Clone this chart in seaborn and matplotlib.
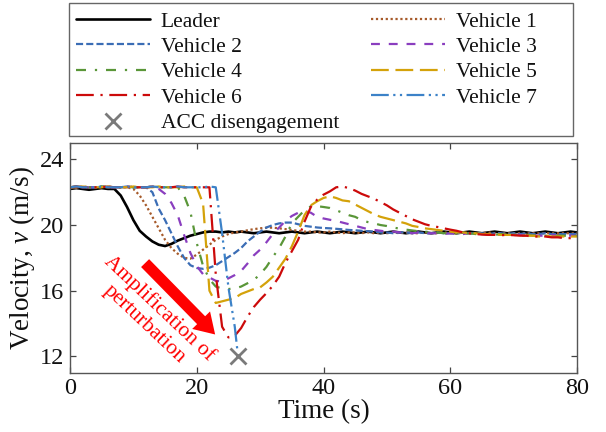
import numpy as np
import pandas as pd
import seaborn as sns
import matplotlib
matplotlib.use("Agg")
import matplotlib.pyplot as plt
from matplotlib.lines import Line2D
from matplotlib.patches import Rectangle

# ---------------- data ----------------
time = list(range(0, 81))

leader = [22.2, 22.25, 22.2, 22.15, 22.2, 22.25, 22.2, 22.2, 21.8, 21.1,
          20.3, 19.65, 19.3, 19.0, 18.8, 18.72, 18.85, 19.05, 19.2, 19.35,
          19.45, 19.55, 19.6, 19.6, 19.55, 19.6, 19.55, 19.6, 19.55, 19.5,
          19.55, 19.6, 19.55, 19.5, 19.55, 19.6, 19.55, 19.5, 19.55, 19.6,
          19.55, 19.5, 19.55, 19.6, 19.55, 19.5, 19.55, 19.6, 19.55, 19.5,
          19.55, 19.6, 19.55, 19.5, 19.55, 19.6, 19.55, 19.5, 19.55, 19.6,
          19.55, 19.5, 19.55, 19.6, 19.55, 19.5, 19.55, 19.6, 19.55, 19.5,
          19.55, 19.6, 19.55, 19.5, 19.55, 19.6, 19.55, 19.5, 19.55, 19.6,
          19.55]

vehicle1 = [22.3, 22.3, 22.35, 22.3, 22.3, 22.3, 22.35, 22.3, 22.3, 22.3,
            22.2, 21.8, 21.2, 20.5, 19.8, 19.1, 18.6, 18.25, 18.0, 17.95,
            18.2, 18.5, 18.8, 19.1, 19.3, 19.45, 19.55, 19.6, 19.68, 19.75,
            19.8, 19.84, 19.84, 19.8, 19.75, 19.7, 19.65, 19.6, 19.6, 19.55,
            19.55, 19.6, 19.55, 19.5, 19.55, 19.55, 19.5, 19.55, 19.5, 19.55,
            19.5, 19.55, 19.5, 19.55, 19.5, 19.5, 19.55, 19.5, 19.5, 19.55,
            19.5, 19.5, 19.55, 19.5, 19.5, 19.5, 19.55, 19.5, 19.5, 19.5,
            19.5, 19.5, 19.5, 19.5, 19.5, 19.5, 19.5, 19.5, 19.5, 19.5,
            19.5]

vehicle2 = [22.3, 22.35, 22.3, 22.3, 22.3, 22.35, 22.3, 22.3, 22.3, 22.35,
            22.3, 22.3, 22.3, 22.0, 21.0, 20.3, 19.5, 18.7, 18.0, 17.55,
            17.38, 17.33, 17.4, 17.55, 17.8, 18.05, 18.3, 18.6, 19.0, 19.3,
            19.6, 19.85, 20.0, 20.1, 20.15, 20.15, 20.05, 19.95, 19.9, 19.85,
            19.82, 19.8, 19.77, 19.74, 19.7, 19.68, 19.65, 19.62, 19.6, 19.55,
            19.55, 19.5, 19.55, 19.55, 19.5, 19.55, 19.5, 19.5, 19.55, 19.5,
            19.5, 19.5, 19.55, 19.5, 19.5, 19.5, 19.45, 19.5, 19.5, 19.45,
            19.5, 19.45, 19.5, 19.45, 19.45, 19.5, 19.45, 19.45, 19.45, 19.45,
            19.45]

vehicle3 = [22.3, 22.3, 22.35, 22.3, 22.3, 22.3, 22.35, 22.3, 22.3, 22.3,
            22.35, 22.3, 22.3, 22.3, 22.2, 21.9, 21.35, 20.6, 19.4, 18.3,
            17.5, 17.0, 16.8, 16.6, 16.55, 16.75, 16.95, 17.2, 17.65, 18.15,
            18.5, 18.95, 19.45, 19.85, 20.25, 20.55, 20.75, 20.85, 20.75, 20.5,
            20.4, 20.32, 20.25, 20.15, 20.05, 19.95, 19.85, 19.75, 19.7, 19.65,
            19.6, 19.6, 19.55, 19.55, 19.5, 19.55, 19.5, 19.5, 19.5, 19.45,
            19.5, 19.45, 19.45, 19.5, 19.45, 19.45, 19.4, 19.45, 19.4, 19.4,
            19.4, 19.4, 19.35, 19.4, 19.35, 19.35, 19.4, 19.35, 19.35, 19.35,
            19.35]

vehicle4 = [22.3, 22.35, 22.3, 22.3, 22.3, 22.35, 22.3, 22.3, 22.3, 22.35,
            22.3, 22.3, 22.3, 22.35, 22.3, 22.3, 22.3, 22.3, 21.8, 20.8,
            18.9, 17.5, 16.7, 16.25, 16.13, 16.1, 16.13, 16.25, 16.45, 16.65,
            17.0, 17.45, 18.05, 18.6, 19.3, 20.1, 20.5, 20.9, 21.14, 21.15,
            21.1, 21.04, 20.9, 20.75, 20.6, 20.5, 20.3, 20.18, 20.1, 20.0,
            19.94, 19.85, 19.78, 19.72, 19.67, 19.62, 19.6, 19.55, 19.55, 19.5,
            19.5, 19.5, 19.45, 19.5, 19.45, 19.45, 19.45, 19.4, 19.45, 19.4,
            19.4, 19.4, 19.4, 19.35, 19.4, 19.35, 19.35, 19.35, 19.35, 19.3,
            19.35]

vehicle5 = [22.3, 22.3, 22.35, 22.3, 22.3, 22.3, 22.35, 22.3, 22.3, 22.3,
            22.35, 22.3, 22.3, 22.3, 22.35, 22.3, 22.3, 22.3, 22.35, 22.3,
            22.3, 21.3, 16.0, 15.25, 15.35, 15.45, 15.55, 15.8, 15.95, 16.1,
            16.2, 16.5, 16.85, 17.4, 17.95, 18.7, 19.6, 20.6, 21.2, 21.45,
            21.65, 21.75, 21.65, 21.5, 21.45, 21.25, 21.05, 20.85, 20.65, 20.5,
            20.4, 20.3, 20.2, 20.1, 19.95, 19.88, 19.8, 19.75, 19.7, 19.65,
            19.6, 19.55, 19.55, 19.5, 19.5, 19.45, 19.45, 19.45, 19.4, 19.4,
            19.4, 19.35, 19.35, 19.35, 19.3, 19.35, 19.3, 19.3, 19.3, 19.3,
            19.3]

vehicle6 = [22.3, 22.35, 22.3, 22.3, 22.3, 22.35, 22.3, 22.3, 22.3, 22.35,
            22.3, 22.3, 22.3, 22.35, 22.3, 22.3, 22.3, 22.35, 22.3, 22.3,
            22.3, 22.3, 22.3, 17.0, 13.8, 13.15, 13.25, 13.72, 14.4, 15.0,
            15.45, 15.85, 16.3, 16.85, 17.7, 18.4, 19.1, 20.2, 21.1, 21.55,
            21.85, 22.05, 22.3, 22.35, 22.25, 22.1, 21.9, 21.75, 21.6, 21.4,
            21.2, 20.95, 20.75, 20.55, 20.35, 20.2, 20.05, 19.95, 19.88, 19.8,
            19.72, 19.65, 19.55, 19.5, 19.45, 19.42, 19.4, 19.4, 19.38, 19.4,
            19.38, 19.35, 19.35, 19.3, 19.3, 19.3, 19.25, 19.25, 19.2, 19.2,
            19.2]

time7 = [0, 1, 2, 3, 4, 5, 6, 7, 8, 9, 10, 11, 12, 13, 14, 15, 16, 17, 18,
         19, 20, 21, 22, 23, 24, 25, 26, 26.4]
vehicle7 = [22.3, 22.35, 22.3, 22.3, 22.3, 22.35, 22.3, 22.3, 22.3, 22.35,
            22.3, 22.3, 22.3, 22.35, 22.3, 22.3, 22.3, 22.35, 22.3, 22.3,
            22.3, 22.3, 22.35, 22.3, 19.5, 16.2, 13.8, 12.4]

acc_time = [26.5]
acc_speed = [12.0]

series_names = ["Leader", "Vehicle 1", "Vehicle 2", "Vehicle 3", "Vehicle 4",
                "Vehicle 5", "Vehicle 6", "Vehicle 7"]

# ---------------- styling ----------------
colors = {"Leader": "#000000", "Vehicle 1": "#A65A2A", "Vehicle 2": "#3B6DB5",
          "Vehicle 3": "#8A3EBF", "Vehicle 4": "#5A9638", "Vehicle 5": "#D4A20A",
          "Vehicle 6": "#CC0A0A", "Vehicle 7": "#3C82C8"}
dashes = {"Leader": "", "Vehicle 1": (1, 1.2), "Vehicle 2": (3.2, 1.4),
          "Vehicle 3": (4, 4), "Vehicle 4": (4.5, 4, 1, 4),
          "Vehicle 5": (8, 3), "Vehicle 6": (8, 3, 1, 3),
          "Vehicle 7": (8, 2, 1, 2, 1, 2)}

data_map = {"Leader": (time, leader), "Vehicle 1": (time, vehicle1),
            "Vehicle 2": (time, vehicle2), "Vehicle 3": (time, vehicle3),
            "Vehicle 4": (time, vehicle4), "Vehicle 5": (time, vehicle5),
            "Vehicle 6": (time, vehicle6), "Vehicle 7": (time7, vehicle7)}
frames = []
for name in series_names:
    tt, vv = data_map[name]
    frames.append(pd.DataFrame({"Time": tt, "Velocity": vv, "Series": name}))
df = pd.concat(frames, ignore_index=True)

sns.set_theme(style="ticks")
plt.rcParams["font.family"] = ["Liberation Serif", "DejaVu Serif"]
plt.rcParams["mathtext.fontset"] = "custom"
plt.rcParams["mathtext.rm"] = "Liberation Serif"
plt.rcParams["mathtext.it"] = "Liberation Serif:italic"

fig = plt.figure(figsize=(6.06, 4.32), dpi=100)
ax = fig.add_axes([70 / 606, 1 - 372.7 / 432, 507 / 606, 229.7 / 432])

sns.lineplot(data=df, x="Time", y="Velocity", hue="Series", style="Series",
             hue_order=series_names, style_order=series_names, palette=colors,
             dashes=dashes, estimator=None, sort=False, linewidth=1.6,
             legend=False, ax=ax)
ax.get_lines()[0].set_linewidth(1.9)

ax.plot(acc_time, acc_speed, linestyle="none", marker="x", markersize=12,
        markeredgewidth=2, color="#7A7A7A", zorder=5)

ax.set_xlim(0, 80)
ax.set_ylim(11, 25)
ax.set_xticks([0, 20, 40, 60, 80])
ax.set_yticks([12, 16, 20, 24])
ax.tick_params(direction="in", length=4, width=0.9, top=True, right=True,
               labelsize=17.5, colors="#444444", labelcolor="#111111", pad=4)
for sp in ax.spines.values():
    sp.set_visible(True)
    sp.set_color("#555555")
    sp.set_linewidth(1.0)
ax.set_xlabel("Time (s)", fontsize=19.5, labelpad=0, color="#111111")
ax.set_ylabel("Velocity, $v$ (m/s)", fontsize=19.5, labelpad=2, color="#111111")

# arrow and annotation
ax.annotate("", xy=(22.9, 13.33), xytext=(11.85, 17.68),
            arrowprops=dict(arrowstyle="simple,head_length=0.8,head_width=1.0,tail_width=0.45",
                            mutation_scale=18, color="#FF0000", shrinkA=0, shrinkB=0, lw=0))
ax.text(12.9, 14.45, "Amplification of\nperturbation", color="#FF0000",
        fontsize=15.5, rotation=-43.4, rotation_mode="anchor", ha="center",
        va="center", multialignment="center", linespacing=1.15)

# legend
handles = []
labels = []
legend_order = ["Leader", "Vehicle 2", "Vehicle 4", "Vehicle 6", "ACC",
                "Vehicle 1", "Vehicle 3", "Vehicle 5", "Vehicle 7"]
for name in legend_order:
    if name == "ACC":
        handles.append(Line2D([], [], linestyle="none", marker="x", markersize=12,
                              markeredgewidth=2, color="#7A7A7A"))
        labels.append("ACC disengagement")
    else:
        d = dashes[name]
        lw = 1.9 if name == "Leader" else 1.6
        ls = "-" if d == "" else (0, d)
        handles.append(Line2D([], [], color=colors[name], linestyle=ls, linewidth=lw))
        labels.append(name)

leg = fig.legend(handles, labels, ncol=2, loc="upper left",
                 bbox_to_anchor=(76 / 606, 1 - 11.5 / 432),
                 bbox_transform=fig.transFigure, fontsize=15.5, frameon=False,
                 handlelength=3.44, handletextpad=0.5, labelspacing=0.25,
                 columnspacing=1.49, borderpad=0, borderaxespad=0)
for t in leg.get_texts():
    t.set_color("#111111")

fig.patches.append(Rectangle((69 / 606, 1 - 136 / 432), (573 - 69) / 606, 133 / 432,
                             transform=fig.transFigure, fill=False,
                             edgecolor="#666666", linewidth=1.0, figure=fig))

fig.savefig("out.png", dpi=100)
